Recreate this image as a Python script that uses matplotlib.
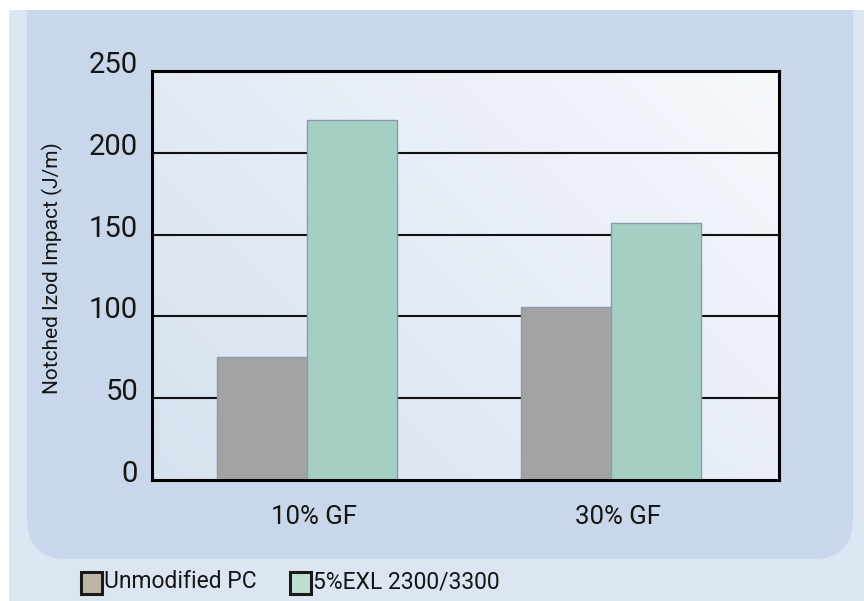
import matplotlib
matplotlib.use("Agg")
import matplotlib.pyplot as plt
import numpy as np
from matplotlib import font_manager
from matplotlib.patches import Rectangle, FancyBboxPatch
from matplotlib.transforms import IdentityTransform, ScaledTranslation

# ---- data ----
categories = ["10% GF", "30% GF"]
series_names = ["Unmodified PC", "5%EXL 2300/3300"]
unmodified_pc = [75, 106]
exl_modified = [220, 157]
yticks = [0, 50, 100, 150, 200, 250]
ylabel = "Notched Izod Impact (J/m)"

# ---- fonts ----
avail = {f.name for f in font_manager.fontManager.ttflist}
main = "Roboto" if "Roboto" in avail else "Liberation Sans"
FAM = [main, "DejaVu Sans"]
plt.rcParams["font.family"] = FAM
plt.rcParams["font.weight"] = "normal"
TXT = "#151515"

W, H = 864, 601
fig = plt.figure(figsize=(W / 100, H / 100), dpi=100)
fig.patch.set_facecolor("white")

def img_rect(x0, y0, x1, y1):
    # image coords (top-left origin) -> display coords
    return x0, H - y1, x1 - x0, y1 - y0

# light outer panel
x, y, w, h = img_rect(9, 10, 864, 601)
fig.patches.append(Rectangle((x, y), w, h, transform=IdentityTransform(),
                             facecolor="#dce6f3", edgecolor="none", zorder=0))
# darker rounded panel (rounded bottom corners)
x, y, w, h = img_rect(27, -80, 853, 559)
fig.patches.append(FancyBboxPatch((x + 40, y + 40), w - 80, h - 80,
                                  boxstyle="round,pad=40", transform=IdentityTransform(),
                                  facecolor="#c9d7ea", edgecolor="none", zorder=1))
# white strip at top (title area)
x, y, w, h = img_rect(0, 0, 864, 10)
fig.patches.append(Rectangle((x, y), w, h, transform=IdentityTransform(),
                             facecolor="white", edgecolor="none", zorder=2))

# ---- axes ----
L, R, T, B = 152, 779, 71, 480
ax = fig.add_axes([L / W, (H - B) / H, (R - L) / W, (B - T) / H])
ax.set_zorder(5)

# gradient background in plot area
gx = np.linspace(0, 1, 200)
gy = np.linspace(0, 1, 200)
GX, GY = np.meshgrid(gx, gy)
t = np.clip(0.6 * GX + 0.4 * (1 - GY), 0, 1)  # row 0 = top (origin upper)
c0 = np.array([0xd6, 0xe1, 0xef]) / 255
c1 = np.array([0xf6, 0xf8, 0xfc]) / 255
img = c0[None, None, :] * (1 - t[..., None]) + c1[None, None, :] * t[..., None]
ax.set_facecolor("white")

xpos = np.arange(len(categories))
bw = 0.295
ax.set_xlim(-0.51, 1.5525)
ax.set_ylim(0, 250)
ax.imshow(img, extent=[-0.51, 1.5525, 0, 250], aspect="auto", origin="upper", zorder=0)

for yv in yticks[1:-1]:
    ax.axhline(yv, color="#111111", lw=1.5, zorder=1)

ax.bar(xpos - bw / 2, unmodified_pc, bw, color="#a3a3a3", edgecolor="#8a9aab",
       linewidth=1.0, zorder=2, label=series_names[0])
ax.bar(xpos + bw / 2, exl_modified, bw, color="#a6cfc3", edgecolor="#8a9aab",
       linewidth=1.0, zorder=2, label=series_names[1])

for s in ax.spines.values():
    s.set_linewidth(2.2)
    s.set_color("black")
    s.set_zorder(6)

ax.set_yticks(yticks)
ax.set_yticklabels([str(v) for v in yticks])
ax.set_xticks(xpos)
ax.set_xticklabels(categories)
ax.tick_params(axis="y", length=0, pad=10, labelsize=21, labelcolor=TXT)
ax.tick_params(axis="x", length=0, pad=18, labelsize=18.5, labelcolor=TXT)
for lab in ax.get_yticklabels():
    lab.set_transform(lab.get_transform() + ScaledTranslation(0, 9 / 100, fig.dpi_scale_trans))
for lab in ax.get_xticklabels():
    lab.set_transform(lab.get_transform() + ScaledTranslation(7 / 100, 0, fig.dpi_scale_trans))

fig.text(52 / W, (H - 268) / H, ylabel, rotation=90, ha="center", va="center",
         fontsize=15, color=TXT, zorder=10)

# ---- legend (custom, bottom) ----
leg_items = [(80, "#bdb5a6", series_names[0]), (289, "#bde0d3", series_names[1])]
for lx, col, txt in leg_items:
    x, y, w, h = img_rect(lx + 1, 572, lx + 22, 594)
    fig.patches.append(Rectangle((x, y), w, h, transform=IdentityTransform(),
                                 facecolor=col, edgecolor="#1a1a1a", linewidth=2.2, zorder=10))
    fig.text((lx + 24) / W, (H - 582) / H, txt, ha="left", va="center",
             fontsize=16.5, color=TXT, zorder=10)

fig.savefig("out.png", dpi=100)
